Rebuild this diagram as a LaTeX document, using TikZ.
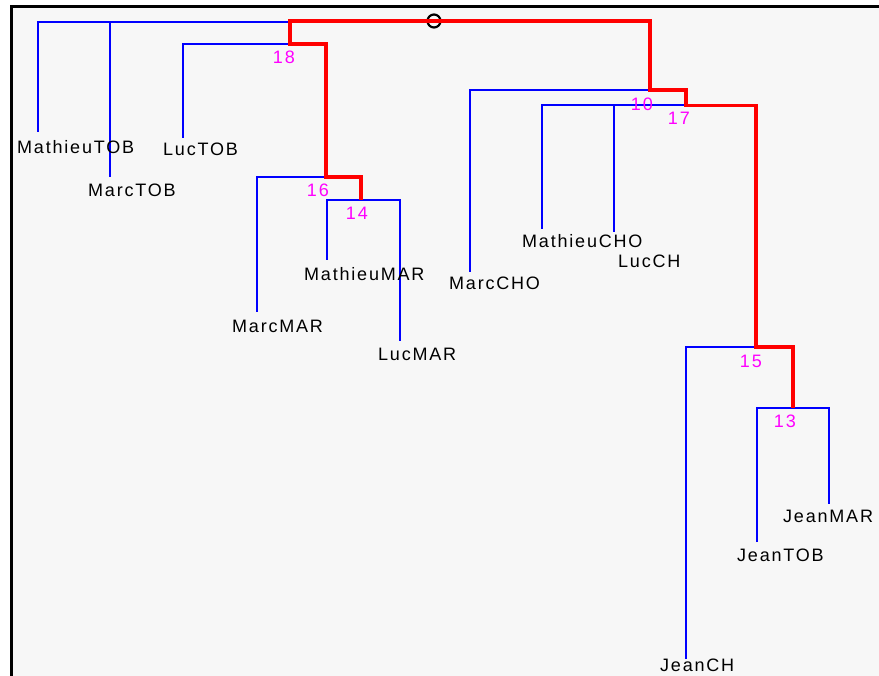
\documentclass[tikz,border=0pt]{standalone}
\usepackage{fontspec}
\newfontfamily\dendfont[LetterSpace=10]{Liberation Sans}
\definecolor{panel}{HTML}{F7F7F7}
\definecolor{linkblue}{RGB}{0,0,255}
\definecolor{linkred}{RGB}{255,0,0}
\definecolor{nodenum}{RGB}{255,0,255}

\begin{document}
\begin{tikzpicture}[x=1pt,y=-1pt,
    branch/.style={linkblue,line width=2pt},
    hot/.style={linkred,line width=3.8pt,line join=miter},
    leaf/.style={anchor=west,inner sep=0pt,font=\dendfont\fontsize{18}{18}\selectfont},
    num/.style={anchor=east,inner sep=0pt,text=nodenum,font=\dendfont\fontsize{18}{18}\selectfont}]
    \useasboundingbox (0,0) rectangle (879,676);
    \fill[panel] (11,6) rectangle (879,676);
    \draw[line width=3pt] (11.5,676) -- (11.5,6.5) -- (879,6.5);

    % junctions
    \coordinate (j0) at (433,22.5);
    \coordinate (j18) at (290,44);
    \coordinate (j16) at (326,177);
    \coordinate (j14) at (361,200);
    \coordinate (j10) at (650,90);
    \coordinate (j17) at (686,105);
    \coordinate (j15) at (756,347);
    \coordinate (j13) at (793,408);

    % leaf tips
    \coordinate (MathieuTOB) at (38,132);
    \coordinate (MarcTOB) at (110,177);
    \coordinate (LucTOB) at (183,138);
    \coordinate (MarcMAR) at (257,312);
    \coordinate (MathieuMAR) at (327,260);
    \coordinate (LucMAR) at (400,341);
    \coordinate (MarcCHO) at (470,272);
    \coordinate (MathieuCHO) at (542,229);
    \coordinate (LucCH) at (614,232);
    \coordinate (JeanCH) at (686,659);
    \coordinate (JeanTOB) at (757,542);
    \coordinate (JeanMAR) at (829,504);

    \draw[branch] (MathieuTOB) |- (j0);
    \draw[branch] (MarcTOB) -- (MarcTOB |- j0);
    \draw[branch] (LucTOB) |- ([xshift=3pt]j18);
    \draw[branch] (MarcMAR) |- (j16);
    \draw[branch] (MathieuMAR) |- (j14) -| (LucMAR);
    \draw[branch] (MarcCHO) |- (j10);
    \draw[branch] (MathieuCHO) |- ([xshift=3pt]j17);
    \draw[branch] (LucCH) -- (LucCH |- j17);
    \draw[branch] (JeanCH) |- (j15);
    \draw[branch] (JeanTOB) |- (j13) -| (JeanMAR);

    \node[draw,circle,minimum size=13pt,inner sep=0pt,line width=2.2pt] (root) at (434,21) {};

    % path of the selected cluster
    \draw[hot] (j14) |- (j16) |- (j18) -- (j18 |- root) -- (j10 |- root)
      -- (j10) -| ([yshift=-0.5pt]j17) -| (j15) -| (j13);

    \node[leaf] (lMathieuTOB) at (17,147) {MathieuTOB};
    \node[leaf] (lMarcTOB) at (88,190) {MarcTOB};
    \node[leaf] (lLucTOB) at (163,149) {LucTOB};
    \node[leaf] (lMarcMAR) at (232,326) {MarcMAR};
    \node[leaf] (lMathieuMAR) at (304,274) {MathieuMAR};
    \node[leaf] (lLucMAR) at (378,354) {LucMAR};
    \node[leaf] (lMarcCHO) at (449,283) {MarcCHO};
    \node[leaf] (lMathieuCHO) at (522,241) {MathieuCHO};
    \node[leaf] (lLucCH) at (618,261) {LucCH};
    \node[leaf] (lJeanMAR) at (783,516) {JeanMAR};
    \node[leaf] (lJeanTOB) at (737,555) {JeanTOB};
    \node[leaf] (lJeanCH) at (660,665) {JeanCH};

    \node[num] (c18) at (295,57) {18};
    \node[num] (c16) at (329,190) {16};
    \node[num] (c14) at (368,213) {14};
    \node[num] (c10) at (653,104) {10};
    \node[num] (c17) at (690,118) {17};
    \node[num] (c15) at (762,361) {15};
    \node[num] (c13) at (796,421) {13};
\end{tikzpicture}
\end{document}
